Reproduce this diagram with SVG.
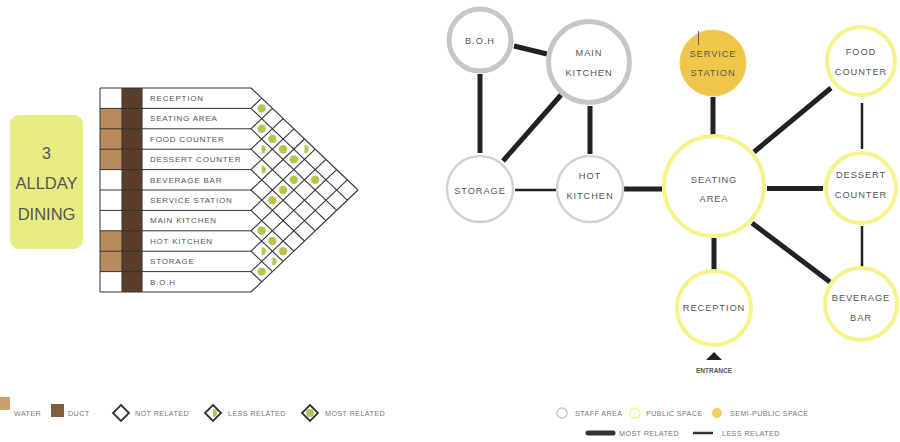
<svg xmlns="http://www.w3.org/2000/svg" width="900" height="442" viewBox="0 0 900 442">
<style>
  text { font-family: "Liberation Sans", Arial, sans-serif; fill: #555; }
  .row { font-size: 8px; letter-spacing: 0.8px; }
  .lbl { font-size: 9.3px; text-anchor: middle; letter-spacing: 0.9px; }
  .leg { font-size: 7.2px; letter-spacing: 0.4px; fill: #777; }
  .grid { stroke: #333; stroke-width: 1.1; fill: none; }
  .cell { stroke: #333; stroke-width: 1; }
  .dot { fill: #bcc24e; }
  .staff { fill: #fff; stroke: #c6c6c6; stroke-width: 5; }
  .staff2 { fill: #fff; stroke: #d2d2d2; stroke-width: 2.5; }
  .pub { fill: #fff; stroke: #f6f38a; stroke-width: 4; }
  .semi { fill: #f0c64a; stroke: #f2cc55; stroke-width: 1; }
  .thick { stroke: #1f2421; stroke-width: 5; fill: none; }
  .thin { stroke: #1f2421; stroke-width: 2.5; fill: none; }
  .dia { fill: #fff; stroke: #333; stroke-width: 1.8; }
</style>

<g id="allday-dining">
  <rect x="10" y="115" width="73" height="134" rx="9" fill="#e9ec83"/>
  <text x="46.5" y="159" font-size="16" text-anchor="middle">3</text>
  <text x="46.5" y="189" font-size="16.5" text-anchor="middle">ALLDAY</text>
  <text x="46.5" y="220" font-size="16.5" text-anchor="middle">DINING</text>
</g>

<g id="matrix">
  <rect x="100" y="108.4" width="22" height="61.2" fill="#b98a5e"/>
  <rect x="100" y="230.8" width="22" height="40.8" fill="#b98a5e"/>
  <rect x="122" y="88" width="20" height="204" fill="#5a3d2b"/>
  <g class="cell" fill="none">
    <polyline points="251,88 100,88 100,292 251,292"/>
    <line x1="122" y1="88" x2="122" y2="292"/>
    <line x1="142" y1="88" x2="142" y2="292"/>
    <line x1="100" y1="108.4" x2="251" y2="108.4"/>
    <line x1="100" y1="128.8" x2="251" y2="128.8"/>
    <line x1="100" y1="149.2" x2="251" y2="149.2"/>
    <line x1="100" y1="169.6" x2="251" y2="169.6"/>
    <line x1="100" y1="190" x2="251" y2="190"/>
    <line x1="100" y1="210.4" x2="251" y2="210.4"/>
    <line x1="100" y1="230.8" x2="251" y2="230.8"/>
    <line x1="100" y1="251.2" x2="251" y2="251.2"/>
    <line x1="100" y1="271.6" x2="251" y2="271.6"/>
  </g>
  <g class="grid">
    <line x1="251" y1="88" x2="358" y2="190"/>
    <line x1="251" y1="108.4" x2="347.3" y2="200.2"/>
    <line x1="251" y1="128.8" x2="336.6" y2="210.4"/>
    <line x1="251" y1="149.2" x2="325.9" y2="220.6"/>
    <line x1="251" y1="169.6" x2="315.2" y2="230.8"/>
    <line x1="251" y1="190" x2="304.5" y2="241"/>
    <line x1="251" y1="210.4" x2="293.8" y2="251.2"/>
    <line x1="251" y1="230.8" x2="283.1" y2="261.4"/>
    <line x1="251" y1="251.2" x2="272.4" y2="271.6"/>
    <line x1="251" y1="271.6" x2="261.7" y2="281.8"/>
    <line x1="251" y1="108.4" x2="261.7" y2="98.2"/>
    <line x1="251" y1="128.8" x2="272.4" y2="108.4"/>
    <line x1="251" y1="149.2" x2="283.1" y2="118.6"/>
    <line x1="251" y1="169.6" x2="293.8" y2="128.8"/>
    <line x1="251" y1="190" x2="304.5" y2="139"/>
    <line x1="251" y1="210.4" x2="315.2" y2="149.2"/>
    <line x1="251" y1="230.8" x2="325.9" y2="159.4"/>
    <line x1="251" y1="251.2" x2="336.6" y2="169.6"/>
    <line x1="251" y1="271.6" x2="347.3" y2="179.8"/>
    <line x1="251" y1="292" x2="358" y2="190"/>
  </g>
  <g class="row">
    <text x="150" y="101">RECEPTION</text>
    <text x="150" y="121.4">SEATING AREA</text>
    <text x="150" y="141.8">FOOD COUNTER</text>
    <text x="150" y="162.2">DESSERT COUNTER</text>
    <text x="150" y="182.6">BEVERAGE BAR</text>
    <text x="150" y="203">SERVICE STATION</text>
    <text x="150" y="223.4">MAIN KITCHEN</text>
    <text x="150" y="243.8">HOT KITCHEN</text>
    <text x="150" y="264.2">STORAGE</text>
    <text x="150" y="284.6">B.O.H</text>
  </g>
  <g class="dot">
    <circle cx="261.7" cy="108.4" r="4.2"/>
    <circle cx="261.7" cy="128.8" r="4.2"/>
    <circle cx="272.4" cy="139" r="4.2"/>
    <circle cx="283.1" cy="149.2" r="4.2"/>
    <circle cx="293.8" cy="159.4" r="4.2"/>
    <circle cx="293.8" cy="179.8" r="4.2"/>
    <circle cx="315.2" cy="179.8" r="4.2"/>
    <circle cx="283.1" cy="190" r="4.2"/>
    <circle cx="272.4" cy="200.2" r="4.2"/>
    <circle cx="261.7" cy="230.8" r="4.2"/>
    <circle cx="272.4" cy="241" r="4.2"/>
    <circle cx="283.1" cy="251.2" r="4.2"/>
    <circle cx="261.7" cy="271.6" r="4.2"/>
    <path d="M261.7,145 A4.2,4.2 0 0 1 261.7,153.4 Z"/>
    <path d="M304.5,145 A4.2,4.2 0 0 1 304.5,153.4 Z"/>
    <path d="M261.7,165.4 A4.2,4.2 0 0 1 261.7,173.8 Z"/>
    <path d="M261.7,247 A4.2,4.2 0 0 1 261.7,255.4 Z"/>
    <path d="M272.4,257.2 A4.2,4.2 0 0 1 272.4,265.6 Z"/>
  </g>
</g>

<g id="legend-left">
  <rect x="0" y="397" width="10" height="13" fill="#c9a06e"/>
  <text class="leg" x="14" y="416">WATER</text>
  <rect x="51" y="404" width="13" height="13" fill="#7b5f3e"/>
  <text class="leg" x="68" y="416">DUCT</text>
  <polygon class="dia" points="121,405 129,413 121,421 113,413"/>
  <text class="leg" x="135" y="416">NOT RELATED</text>
  <polygon class="dia" points="213,405 221,413 213,421 205,413"/>
  <path class="dot" d="M213,409 A4,4 0 0 1 213,417 Z"/>
  <text class="leg" x="228" y="416">LESS RELATED</text>
  <polygon class="dia" points="310,405 318,413 310,421 302,413"/>
  <circle class="dot" cx="310" cy="413" r="4"/>
  <text class="leg" x="325" y="416">MOST RELATED</text>
</g>

<g id="connectors">
  <line class="thick" x1="514" y1="46" x2="547" y2="54"/>
  <line class="thick" x1="480" y1="74" x2="480" y2="153"/>
  <line class="thick" x1="561" y1="95" x2="503" y2="161"/>
  <line class="thick" x1="590" y1="106" x2="590" y2="154"/>
  <line class="thin" x1="515" y1="190" x2="556" y2="190"/>
  <line class="thick" x1="624" y1="189" x2="662" y2="189"/>
  <line class="thick" x1="713" y1="97" x2="713" y2="135"/>
  <line class="thick" x1="754" y1="152" x2="831" y2="88"/>
  <line class="thin" x1="862" y1="103" x2="862" y2="149"/>
  <line class="thick" x1="767" y1="188.5" x2="823" y2="188.5"/>
  <line class="thick" x1="714" y1="238" x2="714" y2="270"/>
  <line class="thick" x1="752" y1="223" x2="830" y2="282"/>
  <line class="thin" x1="862" y1="226" x2="862" y2="267"/>
</g>

<g id="boh">
  <circle class="staff" cx="480" cy="40" r="31"/>
  <text class="lbl" x="480" y="44">B.O.H</text>
</g>
<g id="main-kitchen">
  <circle class="staff" cx="589" cy="62" r="40.5"/>
  <text class="lbl" x="589" y="56">MAIN</text>
  <text class="lbl" x="589" y="76">KITCHEN</text>
</g>
<g id="service-station">
  <circle class="semi" cx="713" cy="63" r="33"/>
  <line x1="698.5" y1="31" x2="698.5" y2="45" stroke="#444" stroke-width="0.8"/>
  <text class="lbl" x="713" y="57">SERVICE</text>
  <text class="lbl" x="713" y="76">STATION</text>
</g>
<g id="food-counter">
  <circle class="pub" cx="861" cy="61" r="34"/>
  <text class="lbl" x="861" y="55">FOOD</text>
  <text class="lbl" x="861" y="75">COUNTER</text>
</g>
<g id="storage">
  <circle class="staff2" cx="480" cy="189" r="33"/>
  <text class="lbl" x="480" y="194">STORAGE</text>
</g>
<g id="hot-kitchen">
  <circle class="staff2" cx="590" cy="189" r="33"/>
  <text class="lbl" x="590" y="179">HOT</text>
  <text class="lbl" x="590" y="199">KITCHEN</text>
</g>
<g id="seating-area">
  <circle class="pub" cx="714" cy="186" r="50"/>
  <text class="lbl" x="714" y="183">SEATING</text>
  <text class="lbl" x="714" y="202">AREA</text>
</g>
<g id="dessert-counter">
  <circle class="pub" cx="861" cy="188" r="35"/>
  <text class="lbl" x="861" y="178">DESSERT</text>
  <text class="lbl" x="861" y="198">COUNTER</text>
</g>
<g id="reception">
  <circle class="pub" cx="714" cy="308" r="37"/>
  <text class="lbl" x="714" y="311">RECEPTION</text>
</g>
<g id="beverage-bar">
  <circle class="pub" cx="861" cy="304" r="36"/>
  <text class="lbl" x="861" y="301">BEVERAGE</text>
  <text class="lbl" x="861" y="321">BAR</text>
</g>
<g id="entrance">
  <polygon points="714,352 722,360 706,360" fill="#222"/>
  <text x="714" y="373" font-size="6.5" text-anchor="middle" fill="#333" font-weight="bold">ENTRANCE</text>
</g>

<g id="legend-right">
  <circle cx="562" cy="413" r="5" fill="#fff" stroke="#c8c8c8" stroke-width="1.5"/>
  <text class="leg" x="575" y="415.5">STAFF AREA</text>
  <circle cx="635" cy="413" r="5" fill="#fff" stroke="#f6f38a" stroke-width="1.5"/>
  <text class="leg" x="646" y="415.5">PUBLIC SPACE</text>
  <circle cx="717" cy="413" r="5" fill="#f2cf5a"/>
  <text class="leg" x="730" y="415.5">SEMI-PUBLIC SPACE</text>
  <line x1="588" y1="433" x2="613" y2="433" stroke="#333" stroke-width="5" stroke-linecap="round"/>
  <text class="leg" x="619" y="435.5">MOST RELATED</text>
  <line x1="693" y1="433" x2="713" y2="433" stroke="#333" stroke-width="2.5"/>
  <text class="leg" x="722" y="435.5">LESS RELATED</text>
</g>
</svg>
